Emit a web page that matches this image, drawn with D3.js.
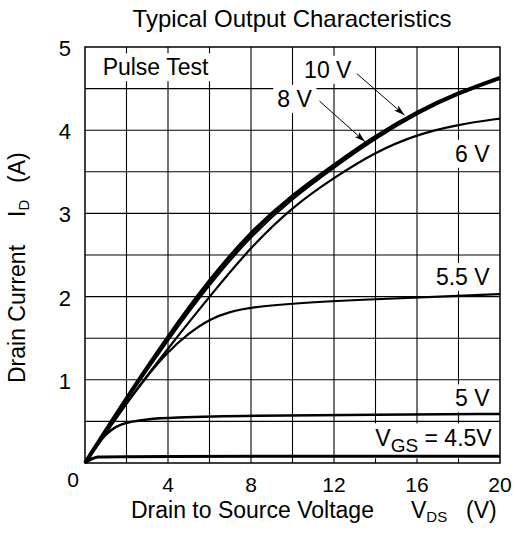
<html>
<head>
<meta charset="utf-8">
<title>Typical Output Characteristics</title>
<script src="https://cdn.jsdelivr.net/npm/d3@7"></script>
<style>
body { margin: 0; background: #fff; }
text { font-family: "Liberation Sans", Arial, sans-serif; fill: #000; }
</style>
</head>
<body>
<svg width="517" height="534"></svg>
<script>

// curve data, VDS (V) vs ID (A)
var vds = [0, 1, 2, 4, 6, 8, 10, 12, 14, 16, 18, 20];
var id10 = [0, 0.39, 0.78, 1.52, 2.2, 2.78, 3.22, 3.58, 3.93, 4.22, 4.45, 4.63];
var id8 = [0, 0.38, 0.76, 1.48, 2.15, 2.73, 3.18, 3.55, 3.9, 4.2, 4.44, 4.62];
var id6 = [0, 0.36, 0.72, 1.38, 2.0, 2.6, 3.08, 3.43, 3.74, 3.95, 4.07, 4.14];

var vds55 = [0, 1, 2, 3, 4, 5, 6, 7, 8, 10, 14, 18, 20];
var id55 = [0, 0.36, 0.72, 1.05, 1.34, 1.56, 1.73, 1.82, 1.87, 1.92, 1.97, 2.01, 2.03];

var vds5 = [0, 0.5, 1, 1.5, 2, 3, 4, 8, 14, 20];
var id5 = [0, 0.19, 0.35, 0.44, 0.49, 0.525, 0.545, 0.57, 0.58, 0.59];

var vds45 = [0, 0.3, 0.6, 1, 20];
var id45 = [0, 0.05, 0.075, 0.08, 0.08];

var xTicks = [4, 8, 12, 16, 20];
var yTicks = [1, 2, 3, 4, 5];

var svg = d3.select("svg");

var x = d3.scaleLinear().domain([0, 20]).range([85, 500]);
var y = d3.scaleLinear().domain([0, 5]).range([463, 47]);

// grid
svg.append("g")
	.selectAll("line")
	.data(d3.range(2, 20, 2))
	.enter()
	.append("line")
	.attr("x1", function(d) { return x(d); })
	.attr("x2", function(d) { return x(d); })
	.attr("y1", y(0))
	.attr("y2", y(5))
	.style("stroke", "#000")
	.style("stroke-width", 1.1);

svg.append("g")
	.selectAll("line")
	.data(d3.range(0.5, 5, 0.5))
	.enter()
	.append("line")
	.attr("x1", x(0))
	.attr("x2", x(20))
	.attr("y1", function(d) { return y(d); })
	.attr("y2", function(d) { return y(d); })
	.style("stroke", "#000")
	.style("stroke-width", 1.1);

// labels sit on white boxes that hide the grid
function label(txt, px, py, anchor) {
	var g = svg.append("g");
	var t = g.append("text")
		.attr("x", px)
		.attr("y", py)
		.attr("text-anchor", anchor)
		.style("font-size", "23px")
		.text(txt);
	var b = t.node().getBBox();
	g.insert("rect", "text")
		.attr("x", b.x - 4)
		.attr("y", b.y - 1)
		.attr("width", b.width + 8)
		.attr("height", b.height + 2)
		.style("fill", "#fff");
	return t;
}

label("Pulse Test", x(0.85), y(4.66), "start");
label("10 V", x(11.7), y(4.63), "middle");
label("8 V", x(10.1), y(4.28), "middle");
label("6 V", x(19.5), y(3.62), "end");
label("5.5 V", x(19.5), y(2.14), "end");
label("5 V", x(19.5), y(0.68), "end");

var vgs = label("", x(19.6), y(0.2), "end");
vgs.append("tspan").text("V");
vgs.append("tspan").attr("dy", 6).style("font-size", "19px").text("GS");
vgs.append("tspan").attr("dy", -6).text(" = 4.5V");
var vb = vgs.node().getBBox();
d3.select(vgs.node().parentNode).select("rect")
	.attr("x", vb.x - 6)
	.attr("y", vb.y - 2)
	.attr("width", x(20) - vb.x + 6)
	.attr("height", vb.height + 4);

// curves
var line = d3.line()
	.x(function(d) { return x(d[0]); })
	.y(function(d) { return y(d[1]); })
	.curve(d3.curveBasis);

function curve(xs, ys, w) {
	svg.append("path")
		.datum(d3.zip(xs, ys))
		.attr("d", line)
		.style("fill", "none")
		.style("stroke", "#000")
		.style("stroke-width", w)
		.style("stroke-linejoin", "round");
}

curve(vds45, id45, 3);
curve(vds5, id5, 2.5);
curve(vds55, id55, 2.2);
curve(vds, id6, 2.2);
curve(vds, id8, 2);
curve(vds, id10, 4);

// arrows to the 10 V and 8 V curves
svg.append("defs").append("marker")
	.attr("id", "head")
	.attr("markerUnits", "userSpaceOnUse")
	.attr("markerWidth", 12)
	.attr("markerHeight", 8)
	.attr("refX", 11)
	.attr("refY", 4)
	.attr("orient", "auto")
	.append("path")
	.attr("d", "M0,0.8 L11,4 L0,7.2 L2.5,4 Z")
	.style("fill", "#000");

var arrows = [[13.1, 4.68, 15.4, 4.18], [11.3, 4.35, 13.5, 3.86]];
svg.append("g")
	.selectAll("line")
	.data(arrows)
	.enter()
	.append("line")
	.attr("x1", function(d) { return x(d[0]); })
	.attr("y1", function(d) { return y(d[1]); })
	.attr("x2", function(d) { return x(d[2]); })
	.attr("y2", function(d) { return y(d[3]); })
	.style("stroke", "#000")
	.style("stroke-width", 1)
	.attr("marker-end", "url(#head)");

// frame
svg.append("rect")
	.attr("x", x(0))
	.attr("y", y(5))
	.attr("width", x(20) - x(0))
	.attr("height", y(0) - y(5))
	.style("fill", "none")
	.style("stroke", "#000")
	.style("stroke-width", 1.5);

// tick labels
svg.append("g")
	.selectAll("text")
	.data(xTicks)
	.enter()
	.append("text")
	.attr("x", function(d) { return x(d); })
	.attr("y", y(0) + 29)
	.attr("text-anchor", "middle")
	.style("font-size", "21px")
	.text(function(d) { return d; });

svg.append("text")
	.attr("x", x(0) - 12)
	.attr("y", y(0) + 24)
	.attr("text-anchor", "middle")
	.style("font-size", "21px")
	.text("0");

svg.append("g")
	.selectAll("text")
	.data(yTicks)
	.enter()
	.append("text")
	.attr("x", x(0) - 14)
	.attr("y", function(d) { return y(d) + 9; })
	.attr("text-anchor", "end")
	.style("font-size", "22px")
	.text(function(d) { return d; });

// title and axis titles
svg.append("text")
	.attr("x", 292)
	.attr("y", 27)
	.attr("text-anchor", "middle")
	.style("font-size", "24px")
	.text("Typical Output Characteristics");

var xt = svg.append("text")
	.attr("x", 131)
	.attr("y", 518)
	.style("font-size", "23px");
xt.append("tspan").text("Drain to Source Voltage");
xt.append("tspan").attr("x", 411).text("V");
xt.append("tspan").attr("dy", 4).style("font-size", "15px").text("DS");
xt.append("tspan").attr("x", 466).attr("dy", -4).text("(V)");

var yt = svg.append("text")
	.attr("transform", "translate(25,0) rotate(-90)")
	.attr("x", -383)
	.attr("y", 0)
	.style("font-size", "23px");
yt.append("tspan").text("Drain Current");
yt.append("tspan").attr("x", -217).text("I");
yt.append("tspan").attr("dy", 4).style("font-size", "15px").text("D");
yt.append("tspan").attr("x", -183).attr("dy", -4).text("(A)");

</script>
</body>
</html>
